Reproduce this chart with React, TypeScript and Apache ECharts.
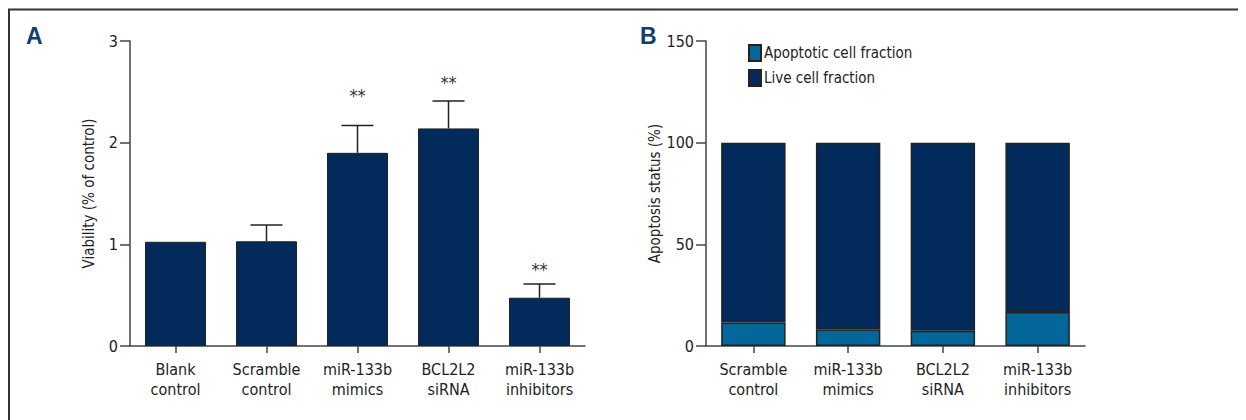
import React, { useEffect, useRef } from "react";
import * as echarts from "echarts";

// Panel A: viability
const catsA = ["Blank\ncontrol", "Scramble\ncontrol", "miR-133b\nmimics", "BCL2L2\nsiRNA", "miR-133b\ninhibitors"];
const viability = [1.025, 1.03, 1.9, 2.14, 0.475];
const viabilityErr = [0, 0.16, 0.27, 0.27, 0.135];
const stars = ["", "", "**", "**", "**"];
const starLevel = [0, 0, 2.47, 2.6, 0.76];
const ticksA = { min: 0, max: 3, interval: 1 };

// Panel B: apoptosis status
const catsB = ["Scramble\ncontrol", "miR-133b\nmimics", "BCL2L2\nsiRNA", "miR-133b\ninhibitors"];
const apoptotic = [11.6, 8.2, 7.5, 16.7];
const live = [88.4, 91.8, 92.5, 83.3];
const ticksB = { min: 0, max: 150, interval: 50 };

const FONT = "'DejaVu Sans Condensed', 'Liberation Sans Narrow', sans-serif";
const NAVY = "#022a5a";
const BLUE = "#03679a";
const TXT = "#222";
const AX = "#444";

export default function App() {
  const ref = useRef<HTMLDivElement>(null);
  useEffect(() => {
    const chart = echarts.init(ref.current!, null, { renderer: "svg" });
    const axisCommon = {
      axisLine: { show: true, lineStyle: { color: AX, width: 1.5 } },
      splitLine: { show: false },
    };
    const yAxisCommon = {
      ...axisCommon,
      type: "value",
      nameLocation: "middle",
      nameTextStyle: { fontFamily: FONT, fontSize: 15, color: TXT },
      axisTick: { show: true, inside: false, length: 10, lineStyle: { color: AX, width: 1.5 } },
      axisLabel: { fontFamily: FONT, fontSize: 16, color: TXT, margin: 12 },
    };
    const xAxisCommon = {
      ...axisCommon,
      type: "category",
      axisTick: { show: true, alignWithLabel: true, length: 7, lineStyle: { color: AX, width: 1.5 } },
      axisLabel: { fontFamily: FONT, fontSize: 16, color: TXT, margin: 13, lineHeight: 20, interval: 0 },
    };
    const option: any = {
      animation: false,
      backgroundColor: "#fff",
      textStyle: { fontFamily: FONT },
      graphic: [
        { type: "line", shape: { x1: 0, y1: 1.5, x2: 1238, y2: 1.5 }, style: { stroke: "#333", lineWidth: 2 } },
        { type: "line", shape: { x1: 1, y1: 1, x2: 1, y2: 412 }, style: { stroke: "#333", lineWidth: 2 } },
        { type: "text", x: 18, y: 16, style: { text: "A", font: "bold 23px 'Liberation Sans', sans-serif", fill: "#123d6c", textVerticalAlign: "top" } },
        { type: "text", x: 632, y: 16, style: { text: "B", font: "bold 23px 'Liberation Sans', sans-serif", fill: "#123d6c", textVerticalAlign: "top" } },
      ],
      grid: [
        { left: 122, top: 33, width: 455, height: 305 },
        { left: 698, top: 33, width: 379, height: 305 },
      ],
      xAxis: [
        { ...xAxisCommon, gridIndex: 0, data: catsA },
        { ...xAxisCommon, gridIndex: 1, data: catsB },
      ],
      yAxis: [
        { ...yAxisCommon, gridIndex: 0, ...ticksA, name: "Viability (% of control)", nameGap: 34 },
        { ...yAxisCommon, gridIndex: 1, ...ticksB, name: "Apoptosis status (%)", nameGap: 22 },
      ],
      legend: {
        orient: "vertical",
        left: 735,
        top: 31,
        itemWidth: 12,
        itemHeight: 16,
        itemGap: 7,
        icon: "rect",
        data: ["Apoptotic cell fraction", "Live cell fraction"],
        textStyle: { fontFamily: FONT, fontSize: 15, color: TXT, padding: [0, 0, 0, -2] },
      },
      series: [
        {
          type: "bar",
          xAxisIndex: 0,
          yAxisIndex: 0,
          data: viability,
          barWidth: "67%",
          itemStyle: { color: NAVY, borderColor: "#222", borderWidth: 1 },
        },
        {
          type: "custom",
          xAxisIndex: 0,
          yAxisIndex: 0,
          z: 5,
          data: viability.map((v, i) => [i, v, viabilityErr[i], starLevel[i]]),
          encode: { x: 0, y: 1 },
          renderItem: (params: any, api: any) => {
            const i = api.value(0);
            const m = api.value(1);
            const e = api.value(2);
            const s = api.value(3);
            const base = api.coord([i, m]);
            const top = api.coord([i, m + e]);
            const children: any[] = [];
            if (e > 0) {
              children.push({ type: "line", shape: { x1: base[0], y1: base[1], x2: top[0], y2: top[1] }, style: { stroke: "#222", lineWidth: 1.5 } });
              children.push({ type: "line", shape: { x1: top[0] - 16, y1: top[1], x2: top[0] + 16, y2: top[1] }, style: { stroke: "#222", lineWidth: 1.5 } });
            }
            const label = stars[params.dataIndex];
            if (label) {
              const sp = api.coord([i, s]);
              children.push({ type: "text", x: sp[0], y: sp[1] + 1, style: { text: label, fill: "#333", font: `18px ${FONT}`, textAlign: "center", textVerticalAlign: "middle" } });
            }
            return { type: "group", children };
          },
        },
        {
          name: "Apoptotic cell fraction",
          type: "bar",
          stack: "b",
          xAxisIndex: 1,
          yAxisIndex: 1,
          data: apoptotic,
          barWidth: "68%",
          itemStyle: { color: BLUE, borderColor: "#222", borderWidth: 1.5 },
        },
        {
          name: "Live cell fraction",
          type: "bar",
          stack: "b",
          xAxisIndex: 1,
          yAxisIndex: 1,
          data: live,
          barWidth: "68%",
          itemStyle: { color: NAVY, borderColor: "#222", borderWidth: 1.5 },
        },
      ],
    };
    chart.setOption(option);
    return () => chart.dispose();
  }, []);
  return <div ref={ref} style={{ width: 1238, height: 412 }} />;
}
